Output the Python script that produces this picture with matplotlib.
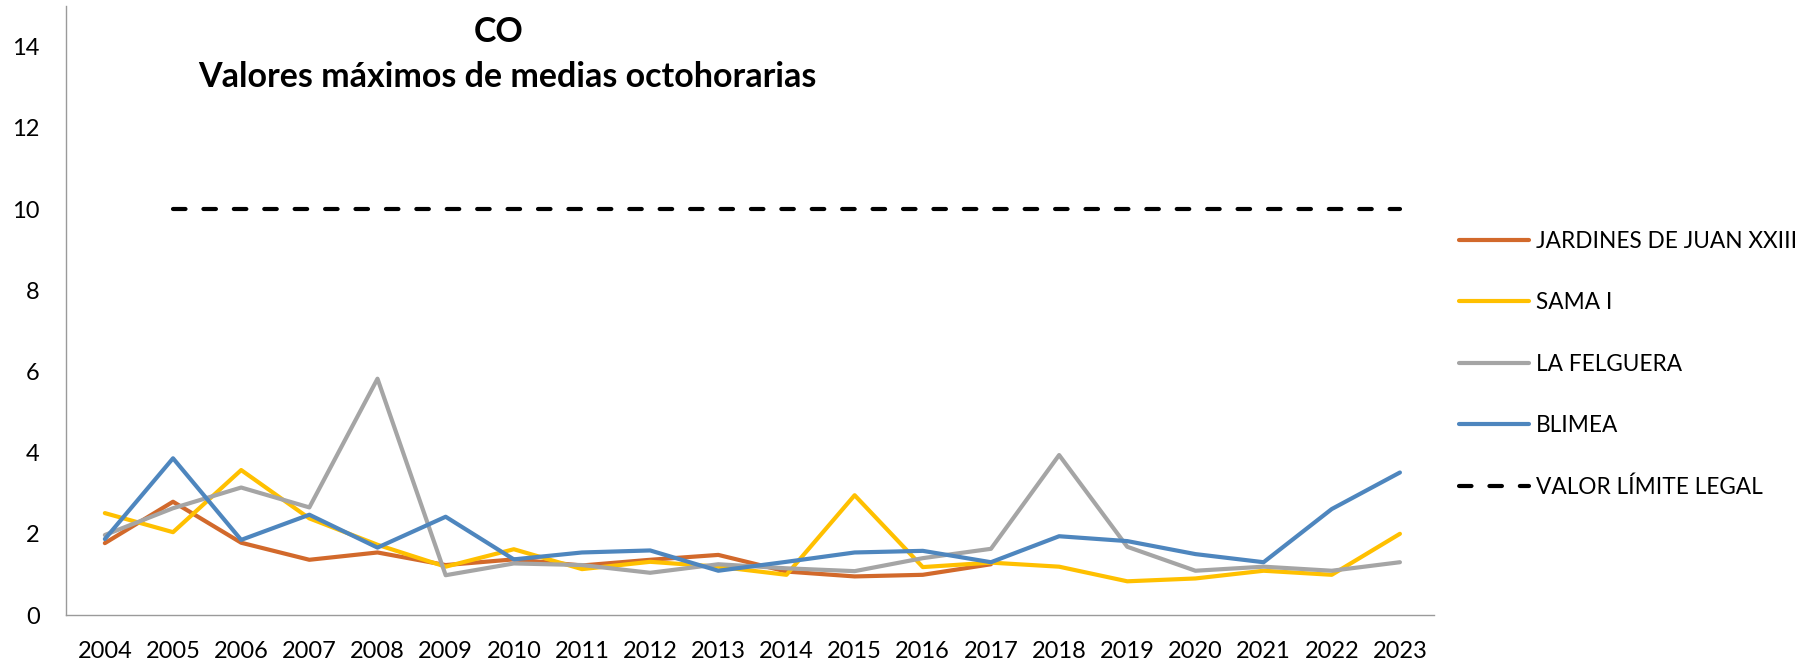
import numpy as np
import matplotlib
matplotlib.use("Agg")
import matplotlib.pyplot as plt

plt.rcParams['font.family'] = ['Lato', 'DejaVu Sans']

years = list(range(2004, 2024))

jardines = [1.77, 2.79, 1.78, 1.36, 1.54, 1.23, 1.37, 1.22, 1.36, 1.48,
            1.07, 0.95, 0.99, 1.25, np.nan, np.nan, np.nan, np.nan, np.nan, np.nan]
sama = [2.51, 2.04, 3.57, 2.38, 1.73, 1.19, 1.62, 1.13, 1.31, 1.19,
        0.99, 2.95, 1.18, 1.29, 1.19, 0.83, 0.90, 1.09, 0.99, 2.00]
felguera = [1.97, 2.63, 3.14, 2.65, 5.82, 0.98, 1.27, 1.23, 1.04, 1.25,
            1.15, 1.08, 1.40, 1.63, 3.94, 1.68, 1.09, 1.19, 1.09, 1.30]
blimea = [1.87, 3.86, 1.85, 2.47, 1.66, 2.42, 1.37, 1.54, 1.59, 1.09,
          1.31, 1.54, 1.58, 1.30, 1.94, 1.82, 1.50, 1.30, 2.61, 3.51]
limite_years = years[1:]
limite = [10] * len(limite_years)

fig = plt.figure(figsize=(18.12, 6.63), dpi=100)
ax = fig.add_axes([66/1812, 1-615/663, (1434-66)/1812, 609/663])

lw = 3.0
ax.plot(years, jardines, color='#D2692B', lw=lw, label='JARDINES DE JUAN XXIII', solid_capstyle='round')
ax.plot(years, sama, color='#FFC000', lw=lw, label='SAMA I', solid_capstyle='round')
ax.plot(years, felguera, color='#A5A5A5', lw=lw, label='LA FELGUERA', solid_capstyle='round')
ax.plot(years, blimea, color='#4E86BE', lw=lw, label='BLIMEA', solid_capstyle='round')
ax.plot(limite_years, limite, color='black', lw=lw, ls=(0, (3, 4.3)),
        dash_capstyle='round', label='VALOR LÍMITE LEGAL')

ax.set_xlim(2003.43, 2023.5)
ax.set_ylim(0, 15)
ax.set_xticks(years)
ax.set_xticklabels([str(y) for y in years])
ax.set_yticks(range(0, 15, 2))
ax.tick_params(axis='both', length=0, labelsize=17, colors='black')
ax.tick_params(axis='x', pad=19)
ax.tick_params(axis='y', pad=19)

for s in ['top', 'right']:
    ax.spines[s].set_visible(False)
for s in ['left', 'bottom']:
    ax.spines[s].set_color('#9A9A9A')
    ax.spines[s].set_linewidth(1)

fig.text(499/1812, 1-32/663, 'CO', ha='center', va='center', fontsize=24.5, fontweight='bold')
fig.text(507/1812, 1-77/663, 'Valores máximos de medias octohorarias', ha='center', va='center',
         fontsize=24.5, fontweight='bold')

fig.legend(loc='upper left', bbox_to_anchor=(1459/1812, 1-231/663), frameon=False,
           fontsize=16.3, handlelength=3.08, handletextpad=0.3, labelspacing=1.78,
           borderpad=0, borderaxespad=0)

fig.savefig('out.png', dpi=100)
